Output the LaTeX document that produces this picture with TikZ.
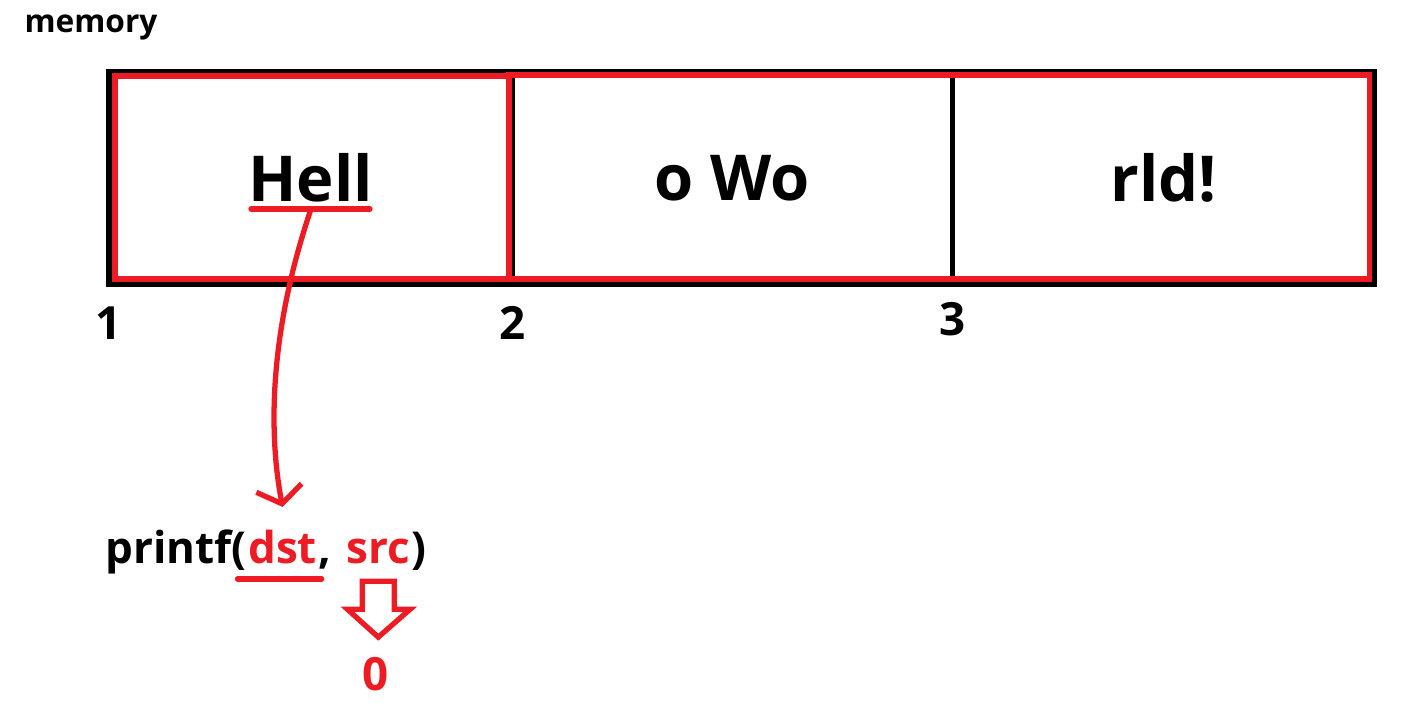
\documentclass[tikz,border=0pt]{standalone}
\usepackage{fontspec}
\setmainfont{Open Sans}
\usepackage{xcolor}
\usetikzlibrary{arrows.meta, positioning, calc}
\definecolor{paintred}{RGB}{237,28,36}

\begin{document}
\begin{tikzpicture}[
    x=0.01cm, y=-0.01cm,
    font=\bfseries,
    cellnode/.style={rectangle, draw=black, line width=1.6pt, outer sep=0pt, inner sep=0pt, minimum height=2.12cm, font=\bfseries\fontsize{18}{20}\selectfont},
    indexnode/.style={inner sep=0pt, font=\bfseries\fontsize{13}{15}\selectfont},
    codenode/.style={inner sep=0pt, anchor=base west, font=\bfseries\fontsize{12.5}{15}\selectfont},
    redline/.style={draw=paintred, line width=1.5pt}
  ]
  \useasboundingbox (0,0) rectangle (1427,723);

  \node[inner sep=0pt, font=\bfseries\fontsize{9}{11}\selectfont] (memlabel) at (91,27) {memory};

  % Memory cells
  \node[cellnode, minimum width=4.03cm] (cell1) at (310.5,178) {Hell};
  \node[cellnode, minimum width=4.40cm, right=0pt of cell1] (cell2) {o Wo};
  \node[cellnode, minimum width=4.22cm, right=0pt of cell2] (cell3) {rld!};

  \draw[redline] ($(cell1.north west)+(6,4)$) rectangle ($(cell1.south east)+(-3,-5)$);
  \draw[redline] ($(cell2.north west)+(-3,3)$) rectangle ($(cell3.south east)+(-5,-5)$);

  \node[indexnode, below=0.22cm of cell1.south west] (idx1) {1};
  \node[indexnode, below=0.22cm of cell2.south west] (idx2) {2};
  \node[indexnode, below=0.18cm of cell3.south west] (idx3) {3};

  % Call
  \node[codenode] (pf) at (105,563) {printf(};
  \node[codenode, text=paintred] (dst) at (pf.base east) {dst};
  \node[codenode] (comma) at (dst.base east) {,};
  \node[codenode, text=paintred] (src) at ($(comma.base east)+(14,0)$) {src};
  \node[codenode] (rp) at (src.base east) {)};

  \coordinate (hellmark) at (311,209);
  \draw[redline, line cap=round] ($(hellmark)+(-60,0)$) -- ($(hellmark)+(59,0)$);
  \draw[redline, line cap=round] ($(dst.base west)+(-10,16)$) -- ($(dst.base east)+(4,16)$);

  \draw[redline, -{Straight Barb[length=1.6mm, width=4.6mm]}] (hellmark) .. controls (270,330) and (268,430) .. ($(dst.north)+(0,-22)$);

  % Block arrow to zero
  \coordinate (srcfoot) at ($(src.south)+(0,17)$);
  \draw[redline, line join=miter] (srcfoot) ++(-16,0) -- ++(32,0) -- ++(0,28) -- ++(16,0) -- ++(-32,28) -- ++(-31,-28) -- ++(15,0) -- cycle;
  \node[indexnode, text=paintred] (zero) at (376,674) {0};

\end{tikzpicture}
\end{document}
